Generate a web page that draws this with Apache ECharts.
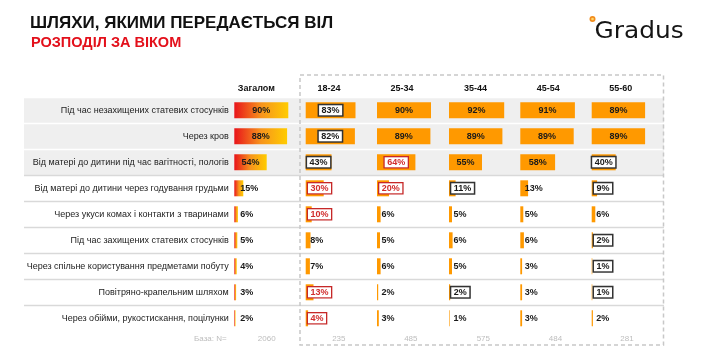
<!DOCTYPE html>
<html><head><meta charset="utf-8">
<script src="https://cdn.jsdelivr.net/npm/echarts@6/dist/echarts.min.js"></script>
<style>html,body{margin:0;padding:0;background:#fff}#c{width:713px;height:357px}</style>
</head><body><div id="c"></div>
<script>
const titleText = 'ШЛЯХИ, ЯКИМИ ПЕРЕДАЄТЬСЯ ВІЛ';
const subtitleText = 'РОЗПОДІЛ ЗА ВІКОМ';
const logoText = 'Gradus';
const categories = [
  'Під час незахищених статевих стосунків',
  'Через кров',
  'Від матері до дитини під час вагітності, пологів',
  'Від матері до дитини через годування грудьми',
  'Через укуси комах і контакти з тваринами',
  'Під час захищених статевих стосунків',
  'Через спільне користування предметами побуту',
  'Повітряно-крапельним шляхом',
  'Через обійми, рукостискання, поцілунки'
];
const groups = ['Загалом', '18-24', '25-34', '35-44', '45-54', '55-60'];
const baseLabel = 'База: N=';
const baseN = ['2060', '235', '485', '575', '484', '281'];

const total   = [90, 88, 54, 15, 6, 5, 4, 3, 2];
const age1824 = [83, 82, 43, 30, 10, 8, 7, 13, 4];
const age2534 = [90, 89, 64, 20, 6, 5, 6, 2, 3];
const age3544 = [92, 89, 55, 11, 5, 6, 5, 2, 1];
const age4554 = [91, 89, 58, 13, 5, 6, 3, 3, 3];
const age5560 = [89, 89, 40, 9, 6, 2, 1, 1, 2];

// significance marks: 0 none, 1 significantly lower (dark box), 2 significantly higher (red box)
const sigTotal = [0, 0, 0, 0, 0, 0, 0, 0, 0];
const sig1824 = [1, 1, 1, 2, 2, 0, 0, 2, 2];
const sig2534 = [0, 0, 2, 2, 0, 0, 0, 0, 0];
const sig3544 = [0, 0, 0, 1, 0, 0, 0, 1, 0];
const sig4554 = [0, 0, 0, 0, 0, 0, 0, 0, 0];
const sig5560 = [0, 0, 1, 1, 0, 1, 1, 1, 0];

const columns = [total, age1824, age2534, age3544, age4554, age5560];
const sigs = [sigTotal, sig1824, sig2534, sig3544, sig4554, sig5560];

// ---- layout ----
const colLeft = [234.3, 305.7, 377, 449, 520.3, 591.7];
const headerX = [256.3, 329, 402, 475.5, 548.3, 620.8];
const baseX = [266.7, 338.8, 410.8, 483.3, 555.5, 627];
const rowTop = 97.3, rowH = 26, nRows = categories.length;
const FONT = '"Liberation Sans", Arial, sans-serif';

const chart = echarts.init(document.getElementById('c'), null, {renderer: 'canvas'});

const grids = [{left: 24, top: rowTop, width: 640, height: rowH * nRows}];
const xAxes = [{gridIndex: 0, type: 'value', min: 0, max: 1, show: false}];
const bgArea = categories.map((c, i) => i < 3 ? '#efefef' : '#ffffff');
const yAxes = [{
  gridIndex: 0, type: 'category', data: categories, inverse: true,
  axisLine: {show: false}, axisTick: {show: false}, axisLabel: {show: false},
  splitArea: {show: true, areaStyle: {color: bgArea}},
  splitLine: {show: true, lineStyle: {color: ['#ffffff', '#ffffff', '#ffffff', '#d9d9d9', '#d9d9d9', '#d9d9d9', '#d9d9d9', '#d9d9d9', '#d9d9d9', '#ffffff'], width: 1.3}}
}];
const series = [];

const gradient = new echarts.graphic.LinearGradient(0, 0, 1, 0, [
  {offset: 0, color: '#e8141b'},
  {offset: 0.5, color: '#f7941d'},
  {offset: 1, color: '#ffcc00'}
]);

columns.forEach((vals, ci) => {
  const gi = ci + 1;
  grids.push({left: colLeft[ci], top: rowTop, width: 60, height: rowH * nRows});
  xAxes.push({gridIndex: gi, type: 'value', min: 0, max: 100, show: false});
  yAxes.push({
    gridIndex: gi, type: 'category', data: categories, inverse: true,
    axisLine: {show: false}, axisTick: {show: false}, splitLine: {show: false},
    axisLabel: ci === 0
      ? {show: true, margin: 5.5, fontSize: 9, color: '#222', fontFamily: FONT}
      : {show: false}
  });
  const data = vals.map((v, ri) => {
    const s = sigs[ci][ri];
    const label = {
      show: true, formatter: '{c}%', fontSize: 9, fontWeight: 'bold',
      fontFamily: FONT, color: '#1a1a1a'
    };
    if (s === 1) {
      Object.assign(label, {backgroundColor: '#fff', borderColor: '#333', borderWidth: 1.5, padding: [1, 2.5, 0, 2.5]});
    } else if (s === 2) {
      Object.assign(label, {backgroundColor: '#fff', borderColor: '#c62828', borderWidth: 1.3, color: '#d12c2c', padding: [1, 2.5, 0, 2.5]});
    }
    if (v >= 35) {
      label.position = 'inside';
    } else {
      label.position = [s ? 2.3 : (ci === 0 ? 6 : 4.5), '50%'];
      label.align = 'left';
      label.verticalAlign = 'middle';
    }
    return {value: v, label};
  });
  series.push({
    type: 'bar', xAxisIndex: gi, yAxisIndex: gi, barWidth: 16, data,
    itemStyle: {color: ci === 0 ? gradient : '#ff9900'},
    silent: true, animation: false
  });
});

const graphics = [
  {type: 'text', style: {x: 30, y: 23, text: titleText, font: 'bold 17px ' + FONT, fill: '#111', textAlign: 'left', textVerticalAlign: 'middle'}},
  {type: 'text', style: {x: 31, y: 42.5, text: subtitleText, font: 'bold 14.5px ' + FONT, fill: '#e3101b', textAlign: 'left', textVerticalAlign: 'middle'}},
  {type: 'text', x: 594.5, y: 32, scaleX: 1.08, style: {x: 0, y: 0, text: logoText, font: '23px "DejaVu Sans", sans-serif', fill: '#151515', textAlign: 'left', textVerticalAlign: 'middle'}},
  {type: 'circle', shape: {cx: 592.5, cy: 19, r: 3}, style: {fill: '#f28c1c'}},
  {type: 'circle', shape: {cx: 592.5, cy: 19, r: 1.3}, style: {fill: '#ffd66b'}},
  {type: 'rect', z: 10, shape: {x: 300, y: 75, width: 363.5, height: 270}, style: {fill: 'none', stroke: '#c8c8c8', lineWidth: 1.5, lineDash: [4, 3]}},
  {type: 'text', style: {x: 226.7, y: 339, text: baseLabel, font: '8px ' + FONT, fill: '#bdbdbd', textAlign: 'right', textVerticalAlign: 'middle'}}
];
groups.forEach((g, i) => {
  graphics.push({type: 'text', style: {x: headerX[i], y: 89, text: g, font: 'bold 9px ' + FONT, fill: '#111', textAlign: 'center', textVerticalAlign: 'middle'}});
  graphics.push({type: 'text', style: {x: baseX[i], y: 339, text: baseN[i], font: '8px ' + FONT, fill: '#bdbdbd', textAlign: 'center', textVerticalAlign: 'middle'}});
});

chart.setOption({
  animation: false,
  backgroundColor: '#ffffff',
  grid: grids, xAxis: xAxes, yAxis: yAxes, series,
  graphic: graphics
});
</script>
</body></html>
